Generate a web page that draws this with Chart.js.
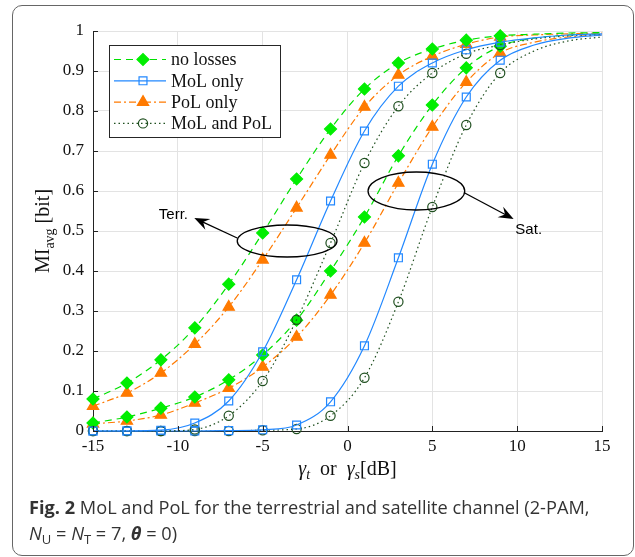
<!DOCTYPE html>
<html>
<head>
<meta charset="utf-8">
<script src="https://cdn.jsdelivr.net/npm/chart.js@4.4.0/dist/chart.umd.min.js"></script>
<style>
  html, body { margin: 0; padding: 0; background: #fff; }
  #wrap { position: relative; width: 635px; height: 557px; overflow: hidden; }
  #frame { position: absolute; left: 12px; top: 5px; width: 622px; height: 551px; box-sizing: border-box;
           border: 1.5px solid #666; border-radius: 10px; }
  #graph { position: absolute; left: 0; top: 0; }
  #caption { position: absolute; left: 29px; top: 494px; font-family: "Open Sans"; font-size: 18.2px;
             line-height: 26px; color: #333; white-space: nowrap; }
  #caption sub { font-size: 13px; vertical-align: -4px; line-height: 0; }
</style>
</head>
<body>
<div id="wrap">
  <div id="frame"></div>
  <canvas id="graph" width="635" height="557"></canvas>
  <div id="caption"><b>Fig. 2</b> MoL and PoL for the terrestrial and satellite channel (2-PAM,<br><i>N</i><sub>U</sub> = <i>N</i><sub>T</sub> = 7, <b><i>θ</i></b> = 0)</div>
</div>
<script>
// SNR in dB (markers every 2 dB up to 9 dB)
var xs = [-15, -13, -11, -9, -7, -5, -3, -1, 1, 3, 5, 7, 9, 11, 13, 15];

// terrestrial channel
var terrNoLoss = [0.08, 0.12, 0.178, 0.258, 0.367, 0.495, 0.63, 0.755, 0.855, 0.92, 0.955, 0.977, 0.988, 0.992, 0.995, 0.996];
var terrMoL    = [0.0, 0.0, 0.002, 0.02, 0.075, 0.198, 0.378, 0.575, 0.75, 0.862, 0.92, 0.953, 0.972, 0.983, 0.99, 0.993];
var terrPoL    = [0.062, 0.095, 0.145, 0.217, 0.31, 0.428, 0.558, 0.69, 0.81, 0.89, 0.937, 0.967, 0.985, 0.99, 0.993, 0.995];
var terrBoth   = [0.0, 0.0, 0.0, 0.004, 0.038, 0.125, 0.278, 0.47, 0.67, 0.812, 0.895, 0.943, 0.965, 0.98, 0.988, 0.992];

// satellite channel
var satNoLoss = [0.02, 0.035, 0.057, 0.085, 0.128, 0.19, 0.277, 0.4, 0.535, 0.688, 0.815, 0.908, 0.962, 0.982, 0.99, 0.993];
var satMoL    = [0.0, 0.0, 0.0, 0.0, 0.001, 0.003, 0.015, 0.073, 0.213, 0.433, 0.667, 0.835, 0.927, 0.965, 0.982, 0.99];
var satPoL    = [0.018, 0.025, 0.04, 0.07, 0.107, 0.16, 0.235, 0.34, 0.47, 0.62, 0.76, 0.872, 0.945, 0.972, 0.985, 0.99];
var satBoth   = [0.0, 0.0, 0.0, 0.0, 0.0, 0.002, 0.005, 0.038, 0.133, 0.323, 0.56, 0.765, 0.895, 0.95, 0.975, 0.985];

var legendLabels = ['no losses', 'MoL only', 'PoL only', 'MoL and PoL'];
var xTicks = [-15, -10, -5, 0, 5, 10, 15];
var xTickLabels = ['-15', '-10', '-5', '0', '5', '10', '15'];
var yTicks = [0, 0.1, 0.2, 0.3, 0.4, 0.5, 0.6, 0.7, 0.8, 0.9, 1];
var yTickLabels = ['0', '0.1', '0.2', '0.3', '0.4', '0.5', '0.6', '0.7', '0.8', '0.9', '1'];

// ellipse call-outs (data units)
var callouts = [
  { text: 'Terr.', cx: -3.56, cy: 0.475, rx: 2.94, ry: 0.04, from: [-6.5, 0.4825], to: [-9.03, 0.5325], at: [-10.26, 0.54] },
  { text: 'Sat.',  cx: 4.06,  cy: 0.6,   rx: 2.85, ry: 0.0475, from: [6.91, 0.595], to: [9.79, 0.53],   at: [10.68, 0.5025] }
];

var styles = [
  { color: '#00e000', fill: '#00ee00', dash: [7, 5],       point: 'rectRot',  radius: 6,   hollow: false },
  { color: '#2288ff', fill: '#2288ff', dash: [],           point: 'rect',     radius: 5.6, hollow: true },
  { color: '#ff7a00', fill: '#ff7a00', dash: [7, 3, 2, 3], point: 'triangle', radius: 6.5, hollow: false },
  { color: '#1f4f1f', fill: '#1f4f1f', dash: [1.5, 3],     point: 'circle',   radius: 4.6, hollow: true }
];

function makeSet(values, s) {
  return {
    data: values.map(function(v, i) { return { x: xs[i], y: v }; }),
    borderColor: s.color,
    borderWidth: 1.2,
    borderDash: s.dash,
    cubicInterpolationMode: 'monotone',
    pointStyle: s.point,
    pointRadius: function(c) { return xs[c.dataIndex] <= 9 ? s.radius : 0; },
    pointBorderColor: s.fill,
    pointBackgroundColor: s.hollow ? 'rgba(0,0,0,0)' : s.fill,
    pointBorderWidth: 1.2,
    clip: false
  };
}

var decorations = {
  id: 'decorations',
  afterDraw: function(chart) {
    var ctx = chart.ctx, sx = chart.scales.x, sy = chart.scales.y, area = chart.chartArea;
    ctx.save();

    // inward ticks like matlab
    ctx.strokeStyle = '#222';
    ctx.lineWidth = 1;
    xTicks.forEach(function(v) {
      var px = Math.round(sx.getPixelForValue(v)) + 0.5;
      ctx.beginPath(); ctx.moveTo(px, area.bottom); ctx.lineTo(px, area.bottom - 5); ctx.stroke();
    });
    yTicks.forEach(function(v) {
      var py = Math.round(sy.getPixelForValue(v)) + 0.5;
      ctx.beginPath(); ctx.moveTo(area.left, py); ctx.lineTo(area.left + 5, py); ctx.stroke();
    });

    // call-outs
    ctx.strokeStyle = '#000';
    ctx.fillStyle = '#000';
    ctx.lineWidth = 1.3;
    callouts.forEach(function(c) {
      var cx = sx.getPixelForValue(c.cx), cy = sy.getPixelForValue(c.cy);
      var rx = sx.getPixelForValue(c.cx + c.rx) - cx, ry = cy - sy.getPixelForValue(c.cy + c.ry);
      ctx.beginPath(); ctx.ellipse(cx, cy, rx, ry, 0, 0, Math.PI * 2); ctx.stroke();
      var x0 = sx.getPixelForValue(c.from[0]), y0 = sy.getPixelForValue(c.from[1]);
      var x1 = sx.getPixelForValue(c.to[0]), y1 = sy.getPixelForValue(c.to[1]);
      var a = Math.atan2(y1 - y0, x1 - x0), L = 15, W = 6;
      ctx.beginPath(); ctx.moveTo(x0, y0); ctx.lineTo(x1 - 0.6 * L * Math.cos(a), y1 - 0.6 * L * Math.sin(a)); ctx.stroke();
      ctx.beginPath();
      ctx.moveTo(x1, y1);
      ctx.lineTo(x1 - L * Math.cos(a) + W * Math.sin(a), y1 - L * Math.sin(a) - W * Math.cos(a));
      ctx.lineTo(x1 - 0.65 * L * Math.cos(a), y1 - 0.65 * L * Math.sin(a));
      ctx.lineTo(x1 - L * Math.cos(a) - W * Math.sin(a), y1 - L * Math.sin(a) + W * Math.cos(a));
      ctx.closePath(); ctx.fill();
      ctx.font = '15px "Liberation Sans"';
      ctx.textAlign = 'center'; ctx.textBaseline = 'middle';
      ctx.fillText(c.text, sx.getPixelForValue(c.at[0]), sy.getPixelForValue(c.at[1]));
    });

    // legend box
    var lx = area.left + 16, ly = area.top + 14, lw = 171, lh = 92;
    ctx.fillStyle = '#fff';
    ctx.fillRect(lx, ly, lw, lh);
    ctx.strokeStyle = '#262626';
    ctx.lineWidth = 1;
    ctx.strokeRect(lx + 0.5, ly + 0.5, lw, lh);
    legendLabels.forEach(function(t, i) {
      var s = styles[i], y = ly + 14.5 + i * 21.3;
      ctx.strokeStyle = s.color; ctx.lineWidth = 1.2; ctx.setLineDash(s.dash);
      ctx.beginPath(); ctx.moveTo(lx + 5, y); ctx.lineTo(lx + 57, y); ctx.stroke();
      ctx.setLineDash([]);
      ctx.fillStyle = s.hollow ? 'rgba(0,0,0,0)' : s.fill;
      ctx.strokeStyle = s.fill;
      Chart.helpers.drawPoint(ctx, { pointStyle: s.point, radius: s.radius, rotation: 0, borderWidth: 1.2 }, lx + 34, y);
      ctx.fillStyle = '#111';
      ctx.font = '18px "Liberation Serif"';
      ctx.textAlign = 'left'; ctx.textBaseline = 'middle';
      ctx.fillText(t, lx + 62, y + 1);
    });

    // axis titles
    ctx.fillStyle = '#111';
    ctx.textBaseline = 'alphabetic';
    ctx.textAlign = 'left';
    var big = '20px "Liberation Serif"', bigI = 'italic 20px "Liberation Serif"', small = '14px "Liberation Serif"', smallI = 'italic 14px "Liberation Serif"';
    function pieces(list) {
      var w = 0;
      list.forEach(function(p) { ctx.font = p[1]; w += ctx.measureText(p[0]).width; });
      return w;
    }
    var xt = [['γ', bigI, 0], ['t', smallI, 4], ['  or  ', big, 0], ['γ', bigI, 0], ['s', smallI, 4], ['[dB]', big, 0]];
    var wx = pieces(xt), px = (area.left + area.right) / 2 - wx / 2, py = 475;
    xt.forEach(function(p) { ctx.font = p[1]; ctx.fillText(p[0], px, py + p[2]); px += ctx.measureText(p[0]).width; });

    var yt = [['MI', big, 0], ['avg', small, 5], [' [bit]', big, 0]];
    var wy = pieces(yt);
    ctx.translate(49, (area.top + area.bottom) / 2);
    ctx.rotate(-Math.PI / 2);
    var qx = -wy / 2;
    yt.forEach(function(p) { ctx.font = p[1]; ctx.fillText(p[0], qx, p[2]); qx += ctx.measureText(p[0]).width; });

    ctx.restore();
  }
};

var ctx = document.getElementById('graph').getContext('2d');
var series = [terrNoLoss, terrMoL, terrPoL, terrBoth, satNoLoss, satMoL, satPoL, satBoth];
var chart = new Chart(ctx, {
  type: 'line',
  data: {
    datasets: series.map(function(v, i) { return makeSet(v, styles[i % 4]); })
  },
  options: {
    responsive: false,
    animation: false,
    layout: { padding: { left: 0, top: 31, right: 33, bottom: 0 } },
    plugins: {
      legend: { display: false },
      tooltip: { enabled: false }
    },
    scales: {
      x: {
        type: 'linear',
        min: -15, max: 15,
        afterFit: function(scale) { scale.height = 126; },
        afterBuildTicks: function(scale) { scale.ticks = xTicks.map(function(v) { return { value: v }; }); },
        ticks: {
          callback: function(v, i) { return xTickLabels[i]; },
          font: { family: 'Liberation Serif', size: 17 },
          color: '#111',
          padding: 5,
          maxRotation: 0
        },
        grid: { color: '#e3e3e3', lineWidth: 1, drawTicks: false },
        border: { color: '#222', width: 1 }
      },
      y: {
        min: 0, max: 1,
        afterFit: function(scale) { scale.width = 93; },
        afterBuildTicks: function(scale) { scale.ticks = yTicks.map(function(v) { return { value: v }; }); },
        ticks: {
          callback: function(v, i) { return yTickLabels[i]; },
          font: { family: 'Liberation Serif', size: 17 },
          color: '#111',
          padding: 9
        },
        grid: { color: '#e3e3e3', lineWidth: 1, drawTicks: false },
        border: { color: '#222', width: 1 }
      }
    }
  },
  plugins: [decorations]
});
</script>
</body>
</html>
